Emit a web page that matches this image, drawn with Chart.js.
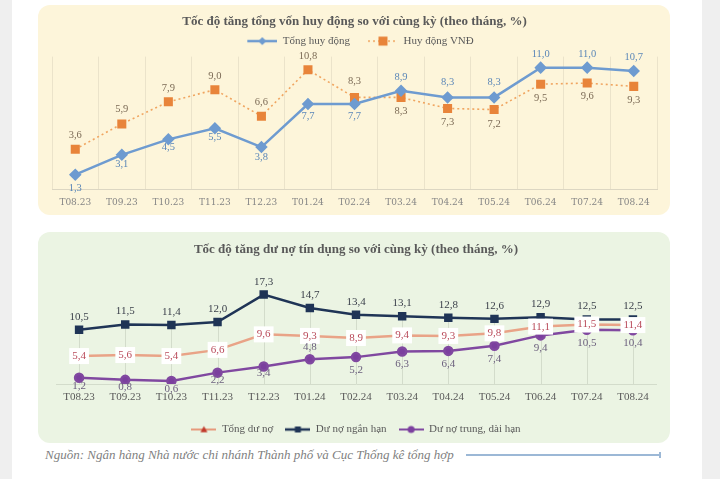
<!DOCTYPE html>
<html lang="vi">
<head>
<meta charset="utf-8">
<title>Tốc độ tăng vốn huy động và dư nợ tín dụng</title>
<script src="https://cdn.jsdelivr.net/npm/chart.js@4.4.1/dist/chart.umd.min.js"></script>
<style>
  html, body { margin: 0; padding: 0; }
  body { width: 720px; height: 479px; background: #fff; position: relative; overflow: hidden; font-family: "Liberation Serif", serif; }
  .le-trai { position: absolute; left: 0; top: 0; width: 12px; height: 479px; background: #efefef; }
  .le-phai { position: absolute; left: 702px; top: 0; width: 18px; height: 479px; background: #efefef; }
  .khung { position: absolute; left: 38px; width: 632px; border-radius: 12px; overflow: hidden; }
  #khung1 { top: 5px; height: 210px; background: #fdf5da; }
  #khung2 { top: 232px; height: 211px; background: #ebf4e3; }
  .nguon { position: absolute; left: 45px; top: 447px; font-style: italic; font-size: 13px; color: #7f7f7f; white-space: nowrap; }
  .vach { position: absolute; left: 466px; top: 454px; width: 195px; height: 2px; background: #9cb8d6; }
  .vach::after { content: ""; position: absolute; right: 0; top: -2px; width: 2px; height: 6px; background: #9cb8d6; }
</style>
</head>
<body>
<div class="le-trai"></div>
<div class="le-phai"></div>
<div class="khung" id="khung1"><canvas id="bieudo1" width="632" height="210"></canvas></div>
<div class="khung" id="khung2"><canvas id="bieudo2" width="632" height="211"></canvas></div>
<div class="nguon">Nguồn: Ngân hàng Nhà nước chi nhánh Thành phố và Cục Thống kê tổng hợp</div>
<div class="vach"></div>

<script>
// du lieu doc tu hinh
const thang = ["T08.23", "T09.23", "T10.23", "T11.23", "T12.23", "T01.24", "T02.24",
               "T03.24", "T04.24", "T05.24", "T06.24", "T07.24", "T08.24"];
const tongHuyDong = [1.3, 3.1, 4.5, 5.5, 3.8, 7.7, 7.7, 8.9, 8.3, 8.3, 11.0, 11.0, 10.7];
const huyDongVND = [3.6, 5.9, 7.9, 9.0, 6.6, 10.8, 8.3, 8.3, 7.3, 7.2, 9.5, 9.6, 9.3];
const tongDuNo = [5.4, 5.6, 5.4, 6.6, 9.6, 9.3, 8.9, 9.4, 9.3, 9.8, 11.1, 11.5, 11.4];
const duNoNganHan = [10.5, 11.5, 11.4, 12.0, 17.3, 14.7, 13.4, 13.1, 12.8, 12.6, 12.9, 12.5, 12.5];
const duNoTrungDaiHan = [1.2, 0.8, 0.6, 2.2, 3.4, 4.8, 5.2, 6.3, 6.4, 7.4, 9.4, 10.5, 10.4];

// do lech cua nhan so (duong = phia duoi diem)
const lechTongHuyDong = [14, 9, 8, 9, 10, 12, 12, -14, -15, -15, -13, -13, -14];
const lechHuyDongVND = [-14, -15, -14, -13, -14, -14, -16, 14, 14, 15, 14, 13, 14];
const lechNganHan = [-13, -13, -13, -13, -12, -13, -13, -13, -13, -13, -13, -13, -13];
const lechTrungDaiHan = [8, 7, 8, 7, 7, -12, 13, 13, 13, 13, 13, 13, 13];

const chuSerif = '"Liberation Serif", "Times New Roman", serif';
const dinhDang = v => v.toFixed(1).replace(".", ",");

// ve nhan so len tung diem
const nhanSo = {
  id: "nhanSo",
  afterDatasetsDraw(chart) {
    const ctx = chart.ctx;
    chart.data.datasets.forEach((ds, i) => {
      if (!ds.nhan) return;
      const meta = chart.getDatasetMeta(i);
      ctx.save();
      ctx.font = ds.nhan.font;
      ctx.textAlign = "center";
      ctx.textBaseline = "middle";
      meta.data.forEach((pt, j) => {
        const chu = dinhDang(ds.data[j]);
        const y = pt.y + (ds.nhan.lech ? ds.nhan.lech[j] : 0);
        if (ds.nhan.nen) {
          const w = ctx.measureText(chu).width + 6;
          ctx.fillStyle = ds.nhan.nen;
          ctx.fillRect(pt.x - w / 2, y - 8, w, 16);
        }
        ctx.fillStyle = ds.nhan.mau;
        ctx.fillText(chu, pt.x, y);
      });
      ctx.restore();
    });
  }
};

// duong thang dung tu diem cao nhat xuong truc
const duongRoi = {
  id: "duongRoi",
  beforeDatasetsDraw(chart) {
    const ctx = chart.ctx;
    const day = chart.chartArea.bottom;
    const metas = chart.data.datasets.map((d, i) => chart.getDatasetMeta(i));
    ctx.save();
    ctx.strokeStyle = "#d3dccb";
    ctx.lineWidth = 1;
    metas[0].data.forEach((pt, j) => {
      const dinh = Math.min(...metas.map(m => m.data[j].y));
      ctx.beginPath();
      ctx.moveTo(Math.round(pt.x) + 0.5, dinh);
      ctx.lineTo(Math.round(pt.x) + 0.5, day);
      ctx.stroke();
    });
    ctx.restore();
  }
};

// ky hieu chu thich: doan thang + diem
function kyHieu(w, le, mau, net, dash, kieu, mauDiem, r) {
  const c = document.createElement("canvas");
  c.width = w + le;
  c.height = 12;
  const g = c.getContext("2d");
  g.strokeStyle = mau;
  g.lineWidth = net;
  g.setLineDash(dash);
  g.beginPath();
  g.moveTo(le, 6);
  g.lineTo(le + w, 6);
  g.stroke();
  g.setLineDash([]);
  g.fillStyle = mauDiem;
  const cx = le + w / 2;
  g.beginPath();
  if (kieu === "thoi") {
    g.moveTo(cx, 6 - r); g.lineTo(cx + r, 6); g.lineTo(cx, 6 + r); g.lineTo(cx - r, 6);
  } else if (kieu === "vuong") {
    g.rect(cx - r, 6 - r, 2 * r, 2 * r);
  } else if (kieu === "tamgiac") {
    g.moveTo(cx, 6 - r); g.lineTo(cx + r, 6 + r * 0.8); g.lineTo(cx - r, 6 + r * 0.8);
  } else {
    g.arc(cx, 6, r, 0, Math.PI * 2);
  }
  g.fill();
  return c;
}

const taoChuThich = chart => chart.data.datasets
  .map((ds, i) => ({
    text: ds.label, pointStyle: ds.kyHieu, datasetIndex: i, fontColor: "#595959",
    fillStyle: "transparent", strokeStyle: "transparent", lineWidth: 0, hidden: false, thuTu: ds.thuTu
  }))
  .sort((a, b) => a.thuTu - b.thuTu);

// ===== bieu do 1: von huy dong =====
new Chart(document.getElementById("bieudo1"), {
  type: "line",
  data: {
    labels: thang,
    datasets: [
      {
        label: "Tổng huy động",
        data: tongHuyDong,
        borderColor: "#6e9bd0",
        backgroundColor: "#6e9bd0",
        borderWidth: 2.5,
        pointStyle: "rectRot",
        pointRadius: 4.5,
        tension: 0,
        thuTu: 0,
        kyHieu: kyHieu(30, 12, "#6e9bd0", 2.5, [], "thoi", "#6e9bd0", 4),
        nhan: { font: "10.5px " + chuSerif, mau: "#5b87b8", lech: lechTongHuyDong }
      },
      {
        label: "Huy động VNĐ",
        data: huyDongVND,
        borderColor: "#f0a560",
        backgroundColor: "#e8843a",
        borderWidth: 1.6,
        borderDash: [2, 3],
        pointStyle: "rect",
        pointRadius: 6.4,
        pointBorderWidth: 0,
        tension: 0,
        thuTu: 1,
        kyHieu: kyHieu(30, 12, "#f0a560", 1.6, [2, 3], "vuong", "#e8843a", 4.5),
        nhan: { font: "10.5px " + chuSerif, mau: "#7b6a55", lech: lechHuyDongVND }
      }
    ]
  },
  options: {
    responsive: false,
    animation: false,
    layout: { padding: { left: 14, right: 13, top: 0, bottom: 2 } },
    plugins: {
      title: {
        display: true,
        text: "Tốc độ tăng tổng vốn huy động so với cùng kỳ (theo tháng, %)",
        color: "#595959",
        font: { family: chuSerif, size: 13, weight: "bold" },
        padding: { top: 9, bottom: 0 }
      },
      legend: {
        position: "top",
        labels: {
          usePointStyle: true,
          pointStyleWidth: 42,
          padding: 6,
          color: "#595959",
          font: { family: chuSerif, size: 11 },
          generateLabels: taoChuThich
        }
      },
      tooltip: { enabled: false }
    },
    scales: {
      x: {
        offset: true,
        grid: { offset: true, drawTicks: false, color: "rgba(0,0,0,0.07)" },
        border: { color: "#dcd6c2" },
        ticks: { color: "#858585", padding: 8, font: { family: '"DejaVu Serif", serif', size: 9 } },
        afterFit(scale) { scale.height = 24; }
      },
      y: { display: false, min: 0, max: 12 }
    }
  },
  plugins: [nhanSo]
});

// ===== bieu do 2: du no tin dung =====
new Chart(document.getElementById("bieudo2"), {
  type: "line",
  data: {
    labels: thang,
    datasets: [
      {
        label: "Dư nợ ngắn hạn",
        data: duNoNganHan,
        borderColor: "#1f3456",
        backgroundColor: "#1f3456",
        borderWidth: 2.5,
        pointStyle: "rect",
        pointRadius: 4.2,
        tension: 0,
        thuTu: 1,
        kyHieu: kyHieu(25, 0, "#1f3456", 2.5, [], "vuong", "#1f3456", 3),
        nhan: { font: "11px " + chuSerif, mau: "#3a3f4a", lech: lechNganHan }
      },
      {
        label: "Tổng dư nợ",
        data: tongDuNo,
        borderColor: "#e9a387",
        backgroundColor: "#c0392b",
        borderWidth: 2.5,
        pointStyle: "triangle",
        pointRadius: 4,
        tension: 0,
        thuTu: 0,
        kyHieu: kyHieu(25, 0, "#e69a7c", 2, [], "tamgiac", "#c0392b", 3.5),
        nhan: { font: "11px " + chuSerif, mau: "#b94a5a", nen: "#ffffff" }
      },
      {
        label: "Dư nợ trung, dài hạn",
        data: duNoTrungDaiHan,
        borderColor: "#8048a0",
        backgroundColor: "#7b3f9e",
        borderWidth: 2.5,
        pointStyle: "circle",
        pointRadius: 4,
        tension: 0,
        thuTu: 2,
        kyHieu: kyHieu(25, 0, "#8048a0", 2, [], "tron", "#7b3f9e", 3.5),
        nhan: { font: "11px " + chuSerif, mau: "#6b5f7d", lech: lechTrungDaiHan }
      }
    ]
  },
  options: {
    responsive: false,
    animation: false,
    layout: { padding: { left: 18, right: 14, top: 0, bottom: -2 } },
    plugins: {
      title: {
        display: true,
        text: "Tốc độ tăng dư nợ tín dụng so với cùng kỳ (theo tháng, %)",
        color: "#595959",
        font: { family: chuSerif, size: 13, weight: "bold" },
        padding: { top: 10, bottom: 23 }
      },
      legend: {
        position: "bottom",
        labels: {
          usePointStyle: true,
          pointStyleWidth: 25,
          padding: 12,
          color: "#595959",
          font: { family: chuSerif, size: 11 },
          generateLabels: taoChuThich
        }
      },
      tooltip: { enabled: false }
    },
    scales: {
      x: {
        offset: true,
        grid: { display: false, drawTicks: false },
        border: { color: "#d3dccb" },
        ticks: { color: "#595959", padding: 7, font: { family: chuSerif, size: 11 } },
        afterFit(scale) { scale.height = 28; }
      },
      y: { display: false, min: 0, max: 20 }
    }
  },
  plugins: [duongRoi, nhanSo]
});
</script>
</body>
</html>
